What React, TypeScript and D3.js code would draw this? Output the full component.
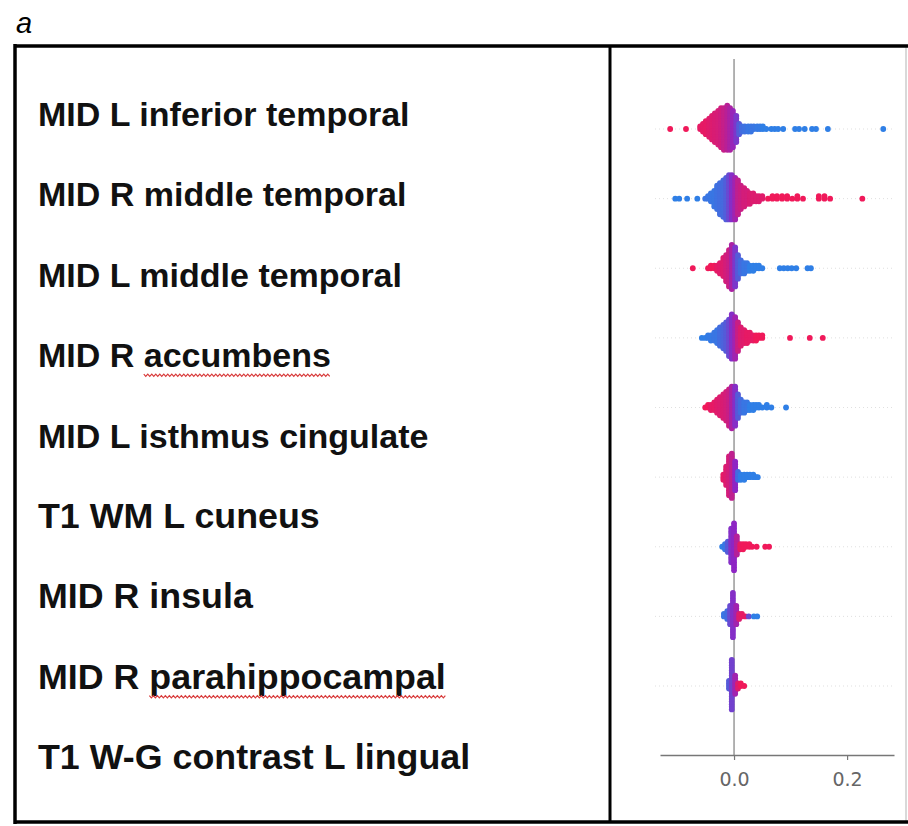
import React, { useEffect, useRef } from 'react';
import * as d3 from 'd3';

// [shap value, number of samples in the bin, feature value 0 (low, blue) .. 1 (high, red)]
type Bin = [number, number, number];

const features = [
  'MID L inferior temporal',
  'MID R middle temporal',
  'MID L middle temporal',
  'MID R accumbens',
  'MID L isthmus cingulate',
  'T1 WM L cuneus',
  'MID R insula',
  'MID R parahippocampal',
  'T1 W-G contrast L lingual',
];

const inferiorTemporalL: Bin[] = [
  [-0.113, 1, 1], [-0.085, 1, 1],
  [-0.060, 2, 0.95], [-0.055, 4, 0.95], [-0.050, 6, 0.95], [-0.044, 8, 0.92], [-0.039, 10, 0.9],
  [-0.034, 12, 0.88], [-0.028, 14, 0.86], [-0.023, 16, 0.83], [-0.018, 17, 0.78], [-0.012, 18, 0.72],
  [-0.007, 17, 0.65], [-0.002, 15, 0.55], [0.004, 11, 0.4], [0.009, 5, 0.2],
  [0.014, 3, 0.1], [0.019, 3, 0.08], [0.025, 3, 0.05], [0.030, 3, 0.05], [0.035, 2, 0.05],
  [0.041, 2, 0.03], [0.046, 2, 0.03], [0.051, 2, 0], [0.057, 1, 0], [0.066, 1, 0], [0.072, 1, 0],
  [0.078, 1, 0], [0.087, 1, 0], [0.108, 1, 0], [0.115, 1, 0], [0.125, 1, 0], [0.138, 1, 0],
  [0.145, 1, 0], [0.166, 1, 0], [0.264, 1, 0],
];

const middleTemporalR: Bin[] = [
  [-0.104, 1, 0], [-0.097, 1, 0], [-0.083, 1, 0], [-0.065, 1, 0], [-0.051, 1, 0.05], [-0.046, 2, 0.05],
  [-0.041, 4, 0.05], [-0.035, 7, 0.05], [-0.030, 10, 0.08], [-0.025, 13, 0.1], [-0.019, 15, 0.12],
  [-0.014, 17, 0.18], [-0.009, 18, 0.3], [-0.004, 18, 0.45], [0.002, 17, 0.6], [0.007, 14, 0.75],
  [0.012, 10, 0.8], [0.018, 8, 0.85], [0.023, 6, 0.85], [0.028, 5, 0.88], [0.034, 4, 0.9],
  [0.039, 3, 0.9], [0.044, 3, 0.9], [0.050, 2, 0.92],
  [0.060, 1, 1], [0.068, 2, 1], [0.076, 2, 1], [0.085, 2, 1], [0.094, 2, 1], [0.103, 1, 1],
  [0.112, 2, 1], [0.122, 1, 1], [0.150, 2, 1], [0.160, 2, 1], [0.170, 1, 1], [0.227, 1, 1],
];

const middleTemporalL: Bin[] = [
  [-0.073, 1, 1], [-0.046, 1, 1], [-0.041, 2, 1], [-0.035, 2, 1],
  [-0.030, 3, 0.95], [-0.025, 5, 0.92], [-0.019, 8, 0.9], [-0.014, 11, 0.85], [-0.009, 15, 0.8],
  [-0.004, 18, 0.65], [0.002, 16, 0.4], [0.007, 10, 0.2], [0.012, 6, 0.1], [0.018, 5, 0.05],
  [0.023, 4, 0.05], [0.028, 3, 0], [0.034, 3, 0], [0.039, 2, 0], [0.044, 2, 0], [0.050, 1, 0],
  [0.081, 1, 0], [0.088, 1, 0], [0.095, 1, 0], [0.102, 1, 0], [0.110, 1, 0], [0.130, 1, 0], [0.136, 1, 0],
];

const accumbensR: Bin[] = [
  [-0.057, 1, 0], [-0.051, 1, 0],
  [-0.046, 2, 0.02], [-0.041, 3, 0.03], [-0.035, 4, 0.05], [-0.030, 6, 0.05], [-0.025, 8, 0.1],
  [-0.019, 10, 0.15], [-0.014, 12, 0.2], [-0.009, 15, 0.3], [-0.004, 18, 0.45], [0.002, 17, 0.6],
  [0.007, 12, 0.8], [0.012, 8, 0.9], [0.018, 6, 0.92], [0.023, 5, 0.95], [0.028, 4, 0.95],
  [0.034, 3, 0.95], [0.039, 3, 1], [0.044, 2, 1], [0.050, 2, 1],
  [0.099, 1, 1], [0.134, 1, 1], [0.157, 1, 1],
];

const isthmusCingulateL: Bin[] = [
  [-0.051, 1, 1], [-0.046, 2, 1], [-0.041, 3, 0.95], [-0.035, 4, 0.95], [-0.030, 6, 0.92],
  [-0.025, 8, 0.9], [-0.019, 10, 0.88], [-0.014, 12, 0.85], [-0.009, 15, 0.8], [-0.004, 17, 0.65],
  [0.002, 16, 0.45], [0.007, 10, 0.2], [0.012, 6, 0.1], [0.018, 5, 0.05], [0.023, 4, 0.05],
  [0.028, 3, 0], [0.034, 3, 0], [0.039, 2, 0], [0.044, 2, 0], [0.050, 1, 0], [0.058, 2, 0],
  [0.066, 1, 0], [0.092, 1, 0],
];

const cuneusWmL: Bin[] = [
  [-0.019, 3, 0.95], [-0.014, 8, 0.9], [-0.009, 16, 0.85], [-0.004, 18, 0.75], [0.002, 12, 0.5],
  [0.007, 4, 0.1], [0.012, 3, 0], [0.018, 3, 0], [0.023, 2, 0], [0.028, 2, 0], [0.034, 2, 0],
  [0.039, 1, 0], [0.042, 1, 0],
];

const insulaR: Bin[] = [
  [-0.021, 1, 0], [-0.016, 3, 0.05], [-0.011, 5, 0.2], [-0.005, 14, 0.45], [0.000, 19, 0.5],
  [0.005, 8, 0.7], [0.011, 3, 0.95], [0.016, 3, 1], [0.021, 2, 1], [0.027, 2, 1], [0.032, 1, 1],
  [0.040, 1, 1], [0.055, 1, 1], [0.062, 1, 1],
];

const parahippocampalR: Bin[] = [
  [-0.018, 2, 0.05], [-0.012, 4, 0.1], [-0.007, 8, 0.3], [-0.002, 18, 0.45], [0.004, 8, 0.6],
  [0.009, 3, 0.9], [0.014, 2, 0.95], [0.020, 1, 0.95], [0.026, 1, 0.3], [0.035, 1, 0], [0.041, 1, 0],
];

const lingualContrastL: Bin[] = [
  [-0.009, 4, 0.2], [-0.004, 20, 0.35], [0.002, 8, 0.6], [0.007, 3, 0.9], [0.012, 2, 1], [0.018, 1, 1],
];

const rows: Bin[][] = [
  inferiorTemporalL, middleTemporalR, middleTemporalL, accumbensR, isthmusCingulateL,
  cuneusWmL, insulaR, parahippocampalR, lingualContrastL,
];

const tickValues = [0, 0.2];
const misspelt = ['accumbens', 'parahippocampal'];

// the lower rows of the label column are set a touch larger in the source
const labelFont = (i: number) =>
  `bold ${i >= 5 ? 35.8 : 34}px "Liberation Sans", Arial, sans-serif`;

const App: React.FC = () => {
  const axisRef = useRef<SVGGElement | null>(null);
  const width = 908;
  const height = 826;

  const x = d3.scaleLinear().domain([-0.131, 0.283]).range([660, 894]);
  const rowY = d3.scalePoint<string>().domain(features).range([129, 686]);
  const labelY = d3.scalePoint<string>().domain(features).range([126, 769]);
  // shap-like red/blue map through a saturated purple
  const color = d3.scaleLinear<string>()
    .domain([0, 0.5, 1])
    .range(['#2f7fe6', '#8e26c4', '#f0195a'])
    .interpolate(d3.interpolateRgb);
  const axisY = 755;
  const step = 2.6;

  // beeswarm: stack each bin's samples alternately above and below the row line
  const dots: { cx: number; cy: number; fill: string }[] = [];
  rows.forEach((bins, r) => {
    const cy0 = rowY(features[r]) as number;
    bins.forEach(([v, n, f]) => {
      for (let j = 0; j < n; j++) {
        const off = (j % 2 === 0 ? 1 : -1) * Math.ceil(j / 2) * step;
        dots.push({ cx: x(v), cy: cy0 + off, fill: color(f) });
      }
    });
  });

  // red spell-check squiggles under some words
  const ctx = document.createElement('canvas').getContext('2d')!;
  const squiggles: string[] = [];
  features.forEach((label, li) => {
    ctx.font = labelFont(li);
    misspelt.forEach(word => {
      const i = label.indexOf(word);
      if (i < 0) return;
      const x0 = 38 + ctx.measureText(label.slice(0, i)).width;
      const x1 = x0 + ctx.measureText(word).width;
      const y0 = (labelY(label) as number) + 7;
      const pts: [number, number][] = [];
      for (let px = x0, k = 0; px <= x1; px += 2, k++) pts.push([px, y0 + (k % 2 ? 2.2 : 0)]);
      squiggles.push(d3.line()(pts) as string);
    });
  });

  useEffect(() => {
    if (!axisRef.current) return;
    const g = d3.select(axisRef.current);
    g.selectAll('*').remove();
    g.call(
      d3.axisBottom(x)
        .tickValues(tickValues)
        .tickFormat(d3.format('.1f'))
        .tickSizeInner(5)
        .tickSizeOuter(0)
        .tickPadding(13)
    );
    g.select('.domain').attr('stroke', '#777').attr('stroke-width', 1.5);
    g.selectAll('.tick line').attr('stroke', '#777').attr('stroke-width', 1.2);
    g.selectAll('.tick text')
      .attr('fill', '#666')
      .style('font', '19px "DejaVu Sans", sans-serif');
  }, []);

  return (
    <svg width={width} height={height} style={{ position: 'absolute', left: 0, top: 0, background: '#fff' }}>
      <text x={16} y={33} style={{ font: 'italic 29px "Liberation Sans", Arial, sans-serif' }}>a</text>

      {/* row guide lines */}
      {features.map(f => (
        <line key={f} x1={655} x2={894} y1={rowY(f)} y2={rowY(f)}
          stroke="#ccc" strokeWidth={1} strokeDasharray="1,3" opacity={0.6} />
      ))}

      {/* zero line */}
      <line x1={x(0)} x2={x(0)} y1={59} y2={axisY} stroke="#999" strokeWidth={1.5} />

      <g>
        {dots.map((d, i) => (
          <circle key={i} cx={d.cx} cy={d.cy} r={2.9} fill={d.fill} />
        ))}
      </g>

      <g ref={axisRef} transform={`translate(0,${axisY})`} />

      {/* labels */}
      {features.map((f, i) => (
        <text key={f} x={38} y={labelY(f)} style={{ font: labelFont(i) }} fill="#111">{f}</text>
      ))}
      {squiggles.map((d, i) => (
        <path key={i} d={d} fill="none" stroke="#d83a3a" strokeWidth={1.2} />
      ))}

      {/* frame */}
      <line x1={906} x2={906} y1={46} y2={822} stroke="#ccc" strokeWidth={1.5} />
      <line x1={15} x2={908} y1={46} y2={46} stroke="#000" strokeWidth={3.5} />
      <line x1={15} x2={908} y1={822} y2={822} stroke="#000" strokeWidth={3.5} />
      <line x1={15} x2={15} y1={44} y2={824} stroke="#000" strokeWidth={3.5} />
      <line x1={610} x2={610} y1={46} y2={822} stroke="#000" strokeWidth={3} />
    </svg>
  );
};

export default App;
